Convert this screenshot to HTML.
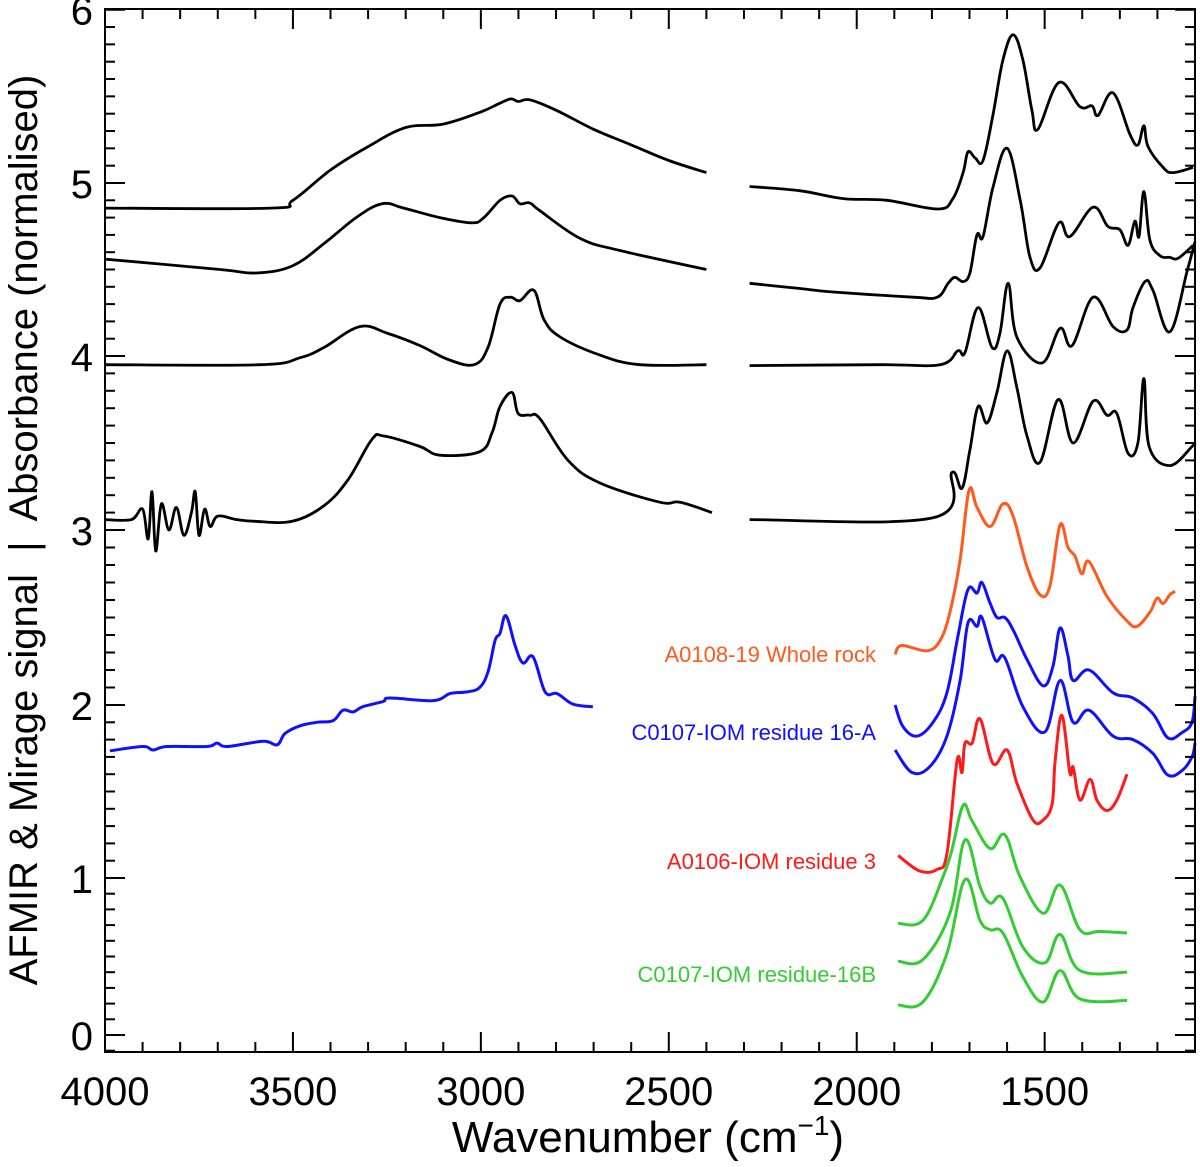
<!DOCTYPE html>
<html><head><meta charset="utf-8"><style>
html,body{margin:0;padding:0;background:#fff;}
svg{display:block;font-family:"Liberation Sans",Arial,sans-serif;}
</style></head><body>
<svg id="chart" width="1200" height="1167" viewBox="0 0 1200 1167">
<g id="marks"></g>
<g id="axes"></g>
<text x="876" y="662" text-anchor="end" font-size="22" fill="#ff5a1e">A0108-19 Whole rock</text>
<text x="876" y="740" text-anchor="end" font-size="22" fill="#1010ff">C0107-IOM residue 16-A</text>
<text x="876" y="869" text-anchor="end" font-size="22" fill="#ff1a1a">A0106-IOM residue 3</text>
<text x="876" y="982" text-anchor="end" font-size="22" fill="#33cc33">C0107-IOM residue-16B</text>
<text x="648" y="1152" text-anchor="middle" font-size="44">Wavenumber (cm<tspan dy="-17" font-size="28">−1</tspan><tspan dy="17">)</tspan></text>
<text transform="translate(37,530) rotate(-90)" text-anchor="middle" font-size="40" xml:space="preserve">AFMIR &amp; Mirage signal  |  Absorbance (normalised)</text>
</svg>
<script>
// ---- data (wavenumber cm-1, signal) ----
const aLeftWn=[4000,3560,3500,3400,3300,3200,3100,3000,2950,2920,2900,2870,2800,2700,2600,2500,2400];
const aLeftV=[4.855,4.855,4.90,5.075,5.21,5.32,5.34,5.41,5.46,5.485,5.47,5.48,5.42,5.31,5.22,5.13,5.06];
const aRightWn=[2285,2150,2036,1920,1784,1744,1717,1704,1685,1664,1637,1611,1584,1558,1534,1518,1462,1406,1374,1358,1318,1273,1252,1236,1225,1185,1159,1105];
const aRightV=[4.98,4.955,4.91,4.90,4.85,4.91,5.06,5.18,5.145,5.13,5.40,5.71,5.855,5.71,5.42,5.31,5.58,5.44,5.445,5.39,5.52,5.28,5.22,5.33,5.21,5.09,5.06,5.09];
const bLeftWn=[4000,3694,3598,3502,3417,3332,3263,3205,3109,3024,2992,2949,2917,2896,2870,2843,2736,2630,2400];
const bLeftV=[4.56,4.50,4.48,4.52,4.65,4.80,4.88,4.855,4.80,4.77,4.80,4.90,4.925,4.88,4.885,4.84,4.68,4.61,4.50];
const bRightWn=[2285,2151,2063,1850,1786,1757,1739,1717,1699,1680,1664,1637,1600,1565,1539,1512,1462,1433,1371,1332,1300,1278,1260,1249,1236,1220,1193,1167,1145,1105];
const bRightV=[4.42,4.39,4.37,4.34,4.34,4.42,4.455,4.43,4.48,4.70,4.69,4.98,5.20,4.90,4.57,4.51,4.77,4.69,4.86,4.75,4.73,4.64,4.78,4.69,4.95,4.67,4.58,4.57,4.565,4.64];
const cLeftWn=[4000,3588,3481,3417,3322,3247,3162,3087,3018,2981,2949,2922,2896,2859,2832,2789,2683,2577,2400];
const cLeftV=[3.95,3.95,3.99,4.05,4.17,4.13,4.06,3.98,3.95,4.05,4.30,4.34,4.32,4.38,4.21,4.11,4.005,3.95,3.95];
const cRightWn=[2285,1938,1778,1731,1712,1677,1640,1619,1597,1574,1507,1459,1427,1371,1318,1281,1265,1233,1212,1167,1121,1100];
const cRightV=[3.945,3.95,3.95,4.03,4.02,4.28,4.05,4.13,4.42,4.11,3.96,4.16,4.06,4.34,4.17,4.15,4.28,4.43,4.38,4.14,4.49,4.66];
const dLeftWn=[4000,3930,3900,3885,3875,3865,3850,3830,3810,3790,3770,3760,3750,3735,3720,3700,3650,3600,3502,3417,3353,3290,3258,3162,3109,3003,2970,2949,2917,2901,2870,2843,2768,2683,2524,2470,2385];
const dLeftV=[3.06,3.06,3.12,2.95,3.22,2.88,3.15,3.0,3.13,2.97,3.10,3.22,2.97,3.12,3.02,3.08,3.06,3.05,3.05,3.14,3.29,3.52,3.54,3.48,3.43,3.45,3.56,3.71,3.79,3.67,3.66,3.64,3.40,3.27,3.16,3.16,3.10];
const dRightWn=[2285,1797,1747,1720,1699,1677,1653,1627,1600,1574,1547,1512,1464,1424,1371,1334,1308,1278,1252,1236,1222,1167,1108,1100];
const dRightV=[3.06,3.07,3.33,3.24,3.46,3.71,3.615,3.79,4.03,3.82,3.54,3.39,3.75,3.50,3.74,3.66,3.67,3.44,3.50,3.87,3.48,3.37,3.48,3.50];
const orangeWn=[1898,1880,1813,1778,1752,1725,1701,1680,1645,1611,1584,1547,1512,1486,1459,1438,1419,1401,1382,1334,1281,1254,1220,1201,1185,1167,1153];
const orangeV=[2.29,2.34,2.31,2.37,2.53,2.83,3.23,3.13,3.02,3.15,3.08,2.79,2.63,2.68,3.03,2.90,2.85,2.75,2.82,2.62,2.48,2.45,2.53,2.61,2.58,2.63,2.65];
const blue1Wn=[1898,1877,1840,1797,1760,1731,1704,1680,1667,1645,1627,1606,1584,1547,1504,1478,1459,1438,1424,1382,1318,1265,1212,1172,1135,1108,1100];
const blue1V=[2.0,1.875,1.82,1.90,2.07,2.39,2.66,2.64,2.70,2.58,2.50,2.50,2.43,2.26,2.11,2.22,2.44,2.28,2.14,2.20,2.07,2.04,1.95,1.81,1.84,1.90,2.05];
const blue2Wn=[1898,1853,1805,1760,1725,1704,1680,1667,1632,1606,1558,1499,1459,1424,1382,1318,1265,1212,1172,1135,1108,1100];
const blue2V=[1.74,1.61,1.645,1.82,2.14,2.47,2.45,2.50,2.26,2.27,1.99,1.845,2.14,1.90,1.97,1.82,1.80,1.72,1.595,1.62,1.70,1.78];
const redWn=[1890,1832,1786,1760,1733,1720,1712,1693,1672,1637,1600,1574,1531,1504,1480,1472,1454,1433,1424,1406,1379,1361,1334,1308,1281];
const redV=[1.13,1.04,1.05,1.14,1.68,1.61,1.78,1.78,1.92,1.66,1.74,1.55,1.335,1.335,1.43,1.68,1.94,1.61,1.64,1.45,1.57,1.45,1.39,1.45,1.60];
const green1Wn=[1890,1824,1770,1747,1717,1693,1645,1606,1566,1504,1459,1406,1353,1281];
const green1V=[0.71,0.73,1.01,1.16,1.42,1.33,1.17,1.25,1.01,0.775,0.955,0.67,0.66,0.65];
const green2Wn=[1890,1824,1752,1712,1672,1645,1611,1558,1499,1459,1406,1281];
const green2V=[0.47,0.48,0.775,1.22,0.945,0.84,0.87,0.56,0.46,0.64,0.41,0.40];
const green3Wn=[1890,1824,1760,1712,1672,1645,1611,1558,1504,1459,1406,1281];
const green3V=[0.19,0.21,0.52,0.99,0.73,0.67,0.65,0.37,0.21,0.41,0.23,0.22];
const blueLeftWn=[3987,3899,3872,3835,3729,3702,3675,3579,3542,3521,3481,3436,3393,3367,3340,3314,3260,3242,3127,3082,3037,3003,2981,2962,2949,2933,2909,2888,2861,2829,2797,2755,2702];
const blueLeftV=[1.735,1.76,1.74,1.76,1.76,1.78,1.76,1.79,1.77,1.835,1.88,1.90,1.91,1.97,1.96,1.99,2.02,2.04,2.025,2.065,2.075,2.10,2.19,2.37,2.41,2.51,2.34,2.24,2.275,2.075,2.065,2.005,1.99];
const xTicks=[4000,3500,3000,2500,2000,1500];
const yTicks=[0,1,2,3,4,5,6];

// ---- scales ----
const X0=105,X1=1195,Y0=9,Y1=1052;
function xs(w){return 105+(4000-w)*(1090/2900);}
const yKnots=[1035,878,705,530,356,183,9.7];
function ys(v){
  if(v<=0)return 1035-v*157;
  const i=Math.min(5,Math.floor(v));const f=v-i;
  return yKnots[i]+(yKnots[i+1]-yKnots[i])*f;
}
const NS='http://www.w3.org/2000/svg';
const marks=document.getElementById('marks'),axes=document.getElementById('axes');
function line(wn,v,color,name,w){
  const pts=wn.map((d,i)=>[xs(d),ys(v[i])]);
  let d='M'+pts[0][0].toFixed(1)+','+pts[0][1].toFixed(1);
  for(let i=0;i<pts.length-1;i++){
    const p0=pts[Math.max(0,i-1)],p1=pts[i],p2=pts[i+1],p3=pts[Math.min(pts.length-1,i+2)];
    const t=0.18;
    const c1x=p1[0]+(p2[0]-p0[0])*t,c1y=p1[1]+(p2[1]-p0[1])*t;
    const c2x=p2[0]-(p3[0]-p1[0])*t,c2y=p2[1]-(p3[1]-p1[1])*t;
    d+=' C'+c1x.toFixed(1)+','+c1y.toFixed(1)+' '+c2x.toFixed(1)+','+c2y.toFixed(1)+' '+p2[0].toFixed(1)+','+p2[1].toFixed(1);
  }
  const p=document.createElementNS(NS,'path');
  p.setAttribute('d',d);
  p.setAttribute('fill','none');p.setAttribute('stroke',color);
  p.setAttribute('stroke-width',w||3);p.setAttribute('stroke-linejoin','round');
  
  
  marks.appendChild(p);
}
line(aLeftWn,aLeftV,'#000','spectrum-1-left',2.8);
line(aRightWn,aRightV,'#000','spectrum-1-right',2.8);
line(bLeftWn,bLeftV,'#000','spectrum-2-left',2.8);
line(bRightWn,bRightV,'#000','spectrum-2-right',2.8);
line(cLeftWn,cLeftV,'#000','spectrum-3-left',2.8);
line(cRightWn,cRightV,'#000','spectrum-3-right',2.8);
line(dLeftWn,dLeftV,'#000','spectrum-4-left',2.8);
line(dRightWn,dRightV,'#000','spectrum-4-right',2.8);
line(orangeWn,orangeV,'#ff5a1e','whole-rock-spectrum',3);
line(blue1Wn,blue1V,'#1010ff','iom-16a-spectrum-1',3);
line(blue2Wn,blue2V,'#1010ff','iom-16a-spectrum-2',3);
line(redWn,redV,'#ff1a1a','iom-residue-3-spectrum',3);
line(green1Wn,green1V,'#33cc33','iom-16b-spectrum-1',3);
line(green2Wn,green2V,'#33cc33','iom-16b-spectrum-2',3);
line(green3Wn,green3V,'#33cc33','iom-16b-spectrum-3',3);
line(blueLeftWn,blueLeftV,'#1010ff','mirage-spectrum',3);

// ---- axes ----
function seg(x1,y1,x2,y2,name){
  const l=document.createElementNS(NS,'line');
  l.setAttribute('x1',x1);l.setAttribute('y1',y1);l.setAttribute('x2',x2);l.setAttribute('y2',y2);
  l.setAttribute('stroke','#000');l.setAttribute('stroke-width',2);
  
  
  axes.appendChild(l);
}
const fr=document.createElementNS(NS,'rect');
fr.setAttribute('x',X0);fr.setAttribute('y',Y0);fr.setAttribute('width',X1-X0);fr.setAttribute('height',Y1-Y0);
fr.setAttribute('fill','none');fr.setAttribute('stroke','#000');fr.setAttribute('stroke-width',2);


axes.appendChild(fr);
for(let w=4000;w>=1100;w-=100){
  const x=xs(w);const L=(w%500===0)?20:10;
  seg(x,Y1,x,Y1-L,'x-tick');seg(x,Y0,x,Y0+L,'x-tick-top');
}
for(let k=-1;k<=60;k++){
  const v=k/10;const y=ys(v);if(y>Y1||y<Y0-1)continue;
  const L=(k%10===0)?20:10;
  seg(X0,y,X0+L,y,'y-tick');seg(X1,y,X1-L,y,'y-tick-right');
}
xTicks.forEach(w=>{
  const t=document.createElementNS(NS,'text');
  t.setAttribute('x',xs(w));t.setAttribute('y',1105);t.setAttribute('text-anchor','middle');t.setAttribute('font-size','40');
  t.textContent=w;
  
  
  axes.appendChild(t);
});
yTicks.forEach(v=>{
  const t=document.createElementNS(NS,'text');
  t.setAttribute('x',93);t.setAttribute('y',ys(v)+15);t.setAttribute('text-anchor','end');t.setAttribute('font-size','40');
  t.textContent=v;
  
  
  axes.appendChild(t);
});
</script>
</body></html>
